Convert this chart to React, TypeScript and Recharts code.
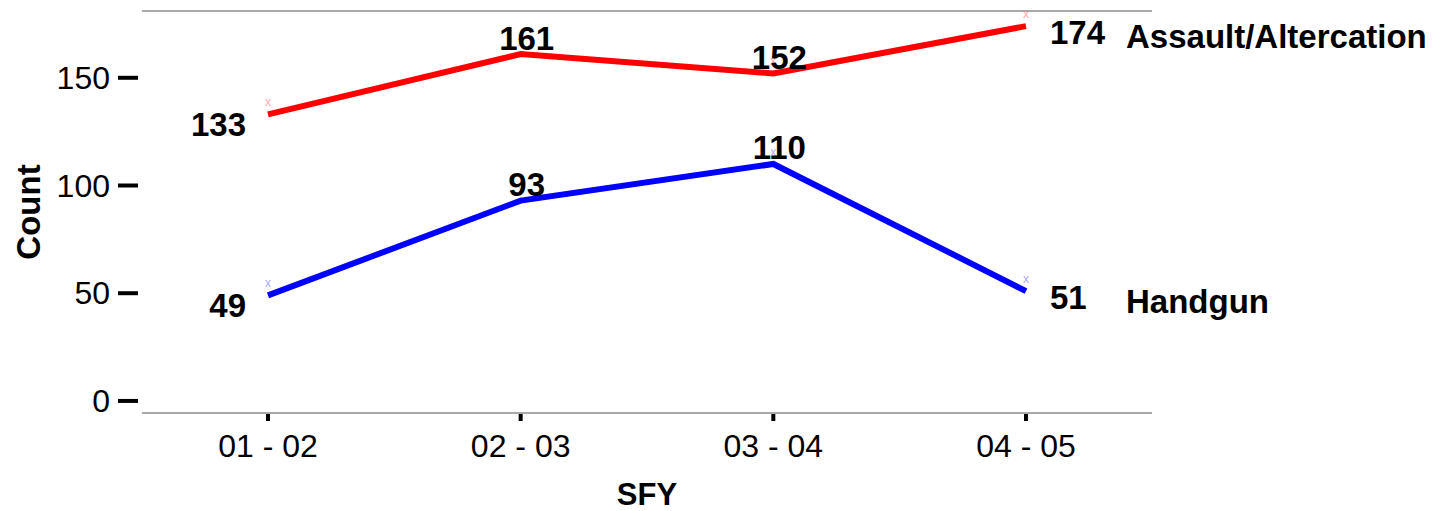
import React from "react";
import {
  LineChart,
  Line,
  XAxis,
  YAxis,
  ReferenceLine,
  LabelList,
} from "recharts";

const periods = ["01 - 02", "02 - 03", "03 - 04", "04 - 05"];
const assault = [133, 161, 152, 174];
const handgun = [49, 93, 110, 51];
const yTicks = [0, 50, 100, 150];

const seriesNames = { assault: "Assault/Altercation", handgun: "Handgun" };

const data = periods.map((p, i) => ({
  period: p,
  assault: assault[i],
  handgun: handgun[i],
}));

const FONT = "'Liberation Sans', Arial, sans-serif";
const LAST = periods.length - 1;

function YTick(props: any) {
  const { y, payload } = props;
  return (
    <g>
      <line x1={118} x2={138} y1={y} y2={y} stroke="#000" strokeWidth={4} />
      <text
        x={110}
        y={y}
        textAnchor="end"
        dominantBaseline="central"
        fontSize={32}
        fontFamily={FONT}
        fill="#000"
      >
        {payload.value}
      </text>
    </g>
  );
}

function XTick(props: any) {
  const { x, payload } = props;
  return (
    <g>
      <line x1={x} x2={x} y1={414} y2={421} stroke="#000" strokeWidth={4} />
      <text
        x={x}
        y={446}
        textAnchor="middle"
        dominantBaseline="central"
        fontSize={32}
        fontFamily={FONT}
        fill="#000"
      >
        {payload.value}
      </text>
    </g>
  );
}

function YTitle() {
  return (
    <text
      x={28}
      y={212}
      transform="rotate(-90 28 212)"
      textAnchor="middle"
      dominantBaseline="central"
      fontSize={33}
      fontWeight={700}
      fontFamily={FONT}
      fill="#000"
    >
      Count
    </text>
  );
}

function XTitle() {
  return (
    <text
      x={647}
      y={494}
      textAnchor="middle"
      dominantBaseline="central"
      fontSize={31}
      fontWeight={700}
      fontFamily={FONT}
      fill="#000"
    >
      SFY
    </text>
  );
}

function makeLabel(name: string) {
  return (props: any) => {
    const { x, y, value, index } = props;
    const common = {
      fontSize: 33,
      fontWeight: 700,
      fontFamily: FONT,
      fill: "#000",
      dominantBaseline: "central" as const,
    };
    if (index === 0) {
      return (
        <text x={x - 22} y={y + 10} textAnchor="end" {...common}>
          {value}
        </text>
      );
    }
    if (index === LAST) {
      return (
        <g>
          <text x={x + 24} y={y + 6} textAnchor="start" {...common}>
            {value}
          </text>
          <text x={x + 100} y={y + 10} textAnchor="start" {...common}>
            {name}
          </text>
        </g>
      );
    }
    return (
      <text x={x + 6} y={y - 16} textAnchor="middle" {...common}>
        {value}
      </text>
    );
  };
}

function makeDot(color: string) {
  return (props: any) => {
    const { cx, cy, index } = props;
    return (
      <text
        key={index}
        x={cx}
        y={cy - 8}
        textAnchor="middle"
        fontSize={12}
        fontFamily={FONT}
        fill={color}
        opacity={0.5}
      >
        x
      </text>
    );
  };
}

export default function App() {
  return (
    <div style={{ position: "absolute", left: 0, top: 0 }}>
      <LineChart
        width={1437}
        height={511}
        data={data}
        margin={{ top: 11, right: 285, bottom: 0, left: 0 }}
      >
        <XAxis
          dataKey="period"
          height={98}
          padding={{ left: 126, right: 126 }}
          tick={<XTick />}
          tickLine={false}
          axisLine={{ stroke: "#555", strokeWidth: 1 }}
          label={<XTitle />}
        />
        <YAxis
          width={142}
          domain={[-5.6, 181]}
          ticks={yTicks}
          allowDataOverflow
          tick={<YTick />}
          tickLine={false}
          axisLine={false}
          label={<YTitle />}
        />
        <ReferenceLine y={181} stroke="#555" strokeWidth={1} />
        <Line
          dataKey="assault"
          stroke="#ff0000"
          strokeWidth={6}
          dot={makeDot("#ff5555")}
          isAnimationActive={false}
        >
          <LabelList dataKey="assault" content={makeLabel(seriesNames.assault)} />
        </Line>
        <Line
          dataKey="handgun"
          stroke="#0000ff"
          strokeWidth={6}
          dot={makeDot("#5555ff")}
          isAnimationActive={false}
        >
          <LabelList dataKey="handgun" content={makeLabel(seriesNames.handgun)} />
        </Line>
      </LineChart>
    </div>
  );
}
